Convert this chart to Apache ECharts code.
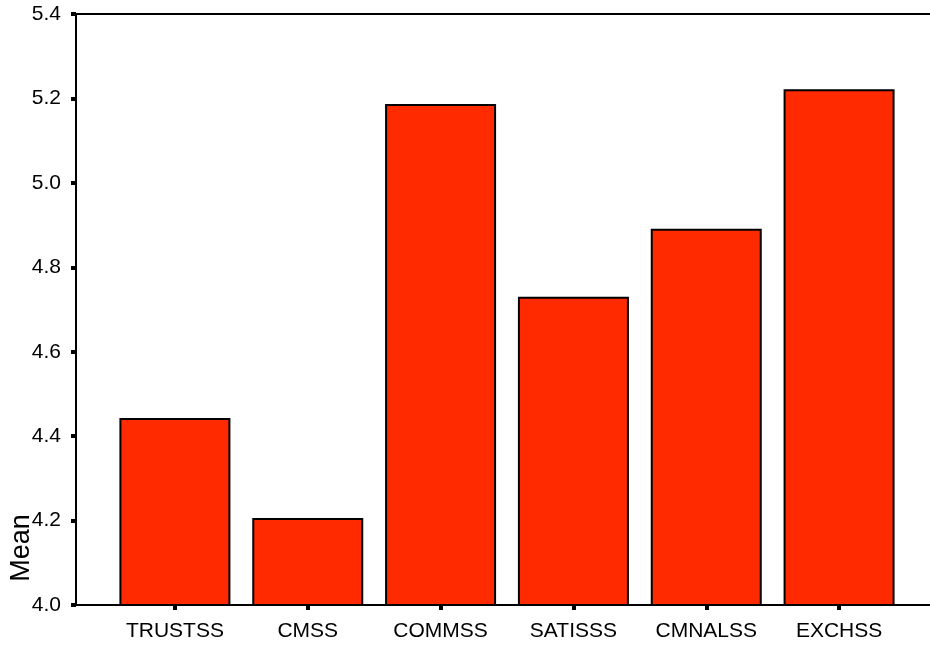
<!DOCTYPE html>
<html><head><meta charset="utf-8">
<script src="https://cdn.jsdelivr.net/npm/echarts@6/dist/echarts.min.js"></script>
<style>html,body{margin:0;padding:0;background:#fff}#c{width:930px;height:646px}</style>
</head><body><div id="c"></div>
<script>
const categories = ['TRUSTSS', 'CMSS', 'COMMSS', 'SATISSS', 'CMNALSS', 'EXCHSS'];
const means = [4.443, 4.206, 5.187, 4.730, 4.891, 5.222];
const yMin = 4.0, yMax = 5.4, yStep = 0.2;

const chart = echarts.init(document.getElementById('c'));
const font = 'Liberation Sans, Arial, sans-serif';
chart.setOption({
  animation: false,
  grid: [
    {left: 76, right: 0, top: 14, bottom: 41},
    {left: 108.5, width: 797, top: 14, bottom: 41}
  ],
  xAxis: [
    {gridIndex: 0, type: 'value', min: 0, max: 1, position: 'bottom',
     axisLine: {show: true, lineStyle: {color: '#000', width: 2}}, axisTick: {show: false},
     axisLabel: {show: false}, splitLine: {show: false}},
    {gridIndex: 0, type: 'value', min: 0, max: 1, position: 'top',
     axisLine: {show: true, onZero: false, lineStyle: {color: '#000', width: 2}}, axisTick: {show: false},
     axisLabel: {show: false}, splitLine: {show: false}},
    {gridIndex: 1, type: 'category', data: categories,
     axisLine: {show: false}, 
     axisTick: {show: true, alignWithLabel: true, length: 5, lineStyle: {color: '#000', width: 4}},
     axisLabel: {color: '#000', fontFamily: font, fontSize: 21, margin: 16}}
  ],
  yAxis: [
    {gridIndex: 0, type: 'value', min: yMin, max: yMax, interval: yStep,
     axisLine: {show: true, lineStyle: {color: '#000', width: 2}},
     axisTick: {show: true, inside: false, length: 5, lineStyle: {color: '#000', width: 4}},
     axisLabel: {color: '#000', fontFamily: font, fontSize: 21, margin: 15,
       formatter: v => v.toFixed(1)},
     splitLine: {show: false}},
    {gridIndex: 1, type: 'value', min: yMin, max: yMax, interval: yStep, show: false}
  ],
  series: [{
    type: 'bar', xAxisIndex: 2, yAxisIndex: 1, data: means, barWidth: 111,
    itemStyle: {color: '#ff2a00', borderColor: '#000', borderWidth: 2}
  }],
  graphic: [{
    type: 'text', x: 22, y: 548, rotation: Math.PI / 2,
    style: {text: 'Mean', fill: '#000', font: '27px ' + font, textAlign: 'center', textVerticalAlign: 'middle'}
  }]
});
</script></body></html>
